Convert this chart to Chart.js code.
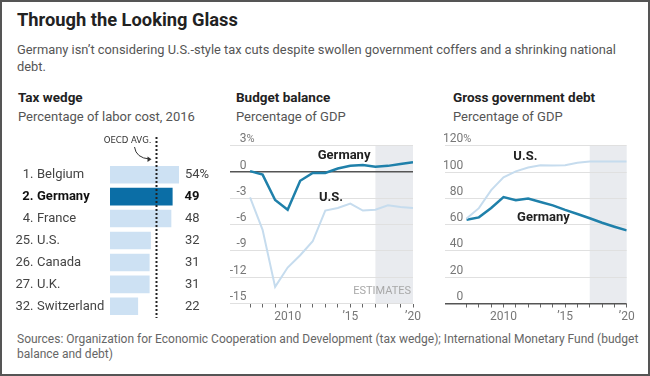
<!DOCTYPE html>
<html>
<head>
<meta charset="utf-8">
<script src="https://cdn.jsdelivr.net/npm/chart.js@4.4.1/dist/chart.umd.min.js"></script>
<style>
body { margin: 0; background: #fff; font-family: Roboto, "Open Sans", sans-serif; }
#frame { position: relative; width: 650px; height: 376px; outline: 2px solid #555; outline-offset: -2px; overflow: hidden; }
.t { position: absolute; white-space: nowrap; }
canvas { position: absolute; }
</style>
</head>
<body>
<div id="frame">
  <div class="t" style="left:17px;top:8px;font-size:18.3px;line-height:24px;font-weight:700;color:#222">Through the Looking Glass</div>
  <div class="t" style="left:17px;top:41px;font-size:12.85px;line-height:17px;color:#555">Germany isn’t considering U.S.-style tax cuts despite swollen government coffers and a shrinking national<br>debt.</div>

  <div class="t" style="left:18px;top:89px;font-size:13.5px;line-height:17px;font-weight:700;color:#222">Tax wedge</div>
  <div class="t" style="left:18px;top:108px;font-size:13px;line-height:17px;color:#555">Percentage of labor cost, 2016</div>
  <div class="t" style="left:236px;top:89px;font-size:13.5px;line-height:17px;font-weight:700;color:#222">Budget balance</div>
  <div class="t" style="left:236px;top:108px;font-size:13px;line-height:17px;color:#555">Percentage of GDP</div>
  <div class="t" style="left:453px;top:89px;font-size:13.5px;line-height:17px;font-weight:700;color:#222">Gross government debt</div>
  <div class="t" style="left:453px;top:108px;font-size:13px;line-height:17px;color:#555">Percentage of GDP</div>

  <canvas id="taxChart" width="220" height="195" style="left:0;top:130px"></canvas>
  <canvas id="budgetChart" width="205" height="200" style="left:220px;top:125px"></canvas>
  <canvas id="debtChart" width="205" height="200" style="left:435px;top:125px"></canvas>

  <div class="t" style="left:17px;top:332px;font-size:12px;line-height:15px;color:#666">Sources: Organization for Economic Cooperation and Development (tax wedge); International Monetary Fund (budget<br>balance and debt)</div>
</div>

<script>
// tax wedge, 2016
const taxRanks = ["1", "2", "4", "25", "26", "27", "32"];
const taxCountries = ["Belgium", "Germany", "France", "U.S.", "Canada", "U.K.", "Switzerland"];
const taxValues = [54, 49, 48, 32, 31, 31, 22];
const oecdAvg = 36;

// budget balance and debt, % of GDP
const years = [2007, 2008, 2009, 2010, 2011, 2012, 2013, 2014, 2015, 2016, 2017, 2018, 2019, 2020];
const germanyBalance = [0.1, -0.3, -3.2, -4.3, -1.0, -0.1, -0.1, 0.4, 0.7, 0.8, 0.6, 0.7, 0.9, 1.1];
const usBalance = [-2.9, -6.6, -13.1, -10.9, -9.5, -7.9, -4.4, -4.1, -3.6, -4.4, -4.3, -3.8, -4.0, -4.1];
const germanyDebt = [63.7, 65.5, 72.6, 80.9, 78.6, 79.8, 77.2, 74.6, 71.2, 68.1, 64.8, 61.4, 58.4, 55.6];
const usDebt = [64.6, 72.5, 86.2, 95.9, 100.5, 103.4, 105.2, 105.0, 105.1, 107.0, 108.0, 108.0, 108.0, 107.9];
const estimatesFrom = 2017;

const germanyColor = '#1f80aa';
const usColor = '#c6dcee';
const fontFamily = 'Roboto, "Open Sans", sans-serif';

// ---------- tax wedge bars ----------
const taxLabels = {
    id: 'taxLabels',
    afterDatasetsDraw(chart) {
        const ctx = chart.ctx;
        const x = chart.scales.x, y = chart.scales.y;
        ctx.save();
        ctx.textBaseline = 'middle';
        taxCountries.forEach((name, i) => {
            const py = y.getPixelForValue(i);
            const bold = name === 'Germany';
            ctx.font = (bold ? 'bold ' : '') + '13px ' + fontFamily;
            ctx.fillStyle = bold ? '#111' : '#444';
            ctx.textAlign = 'right';
            ctx.fillText(taxRanks[i] + '.', 33.5, py);
            ctx.textAlign = 'left';
            ctx.fillText(name, 37, py);
            ctx.textAlign = 'right';
            ctx.fillText(String(taxValues[i]), 199.5, py);
            if (i === 0) {
                ctx.textAlign = 'left';
                ctx.fillText('%', 199.5, py);
            }
        });
        // OECD average dotted line
        const ox = Math.round(x.getPixelForValue(oecdAvg)) + 0.5;
        ctx.strokeStyle = '#222';
        ctx.lineWidth = 2;
        ctx.setLineDash([2, 2]);
        ctx.beginPath();
        ctx.moveTo(ox, 7);
        ctx.lineTo(ox, 188);
        ctx.stroke();
        ctx.setLineDash([]);
        ctx.font = '9.5px "Liberation Sans Narrow", "DejaVu Sans Condensed", ' + fontFamily;
        ctx.fillStyle = '#333';
        ctx.textAlign = 'right';
        ctx.fillText('OECD AVG.', ox - 5, 11);
        // little arrow
        ctx.lineWidth = 1;
        ctx.strokeStyle = '#333';
        ctx.beginPath();
        ctx.moveTo(134.5, 17);
        ctx.quadraticCurveTo(136, 28, ox - 7, 29);
        ctx.stroke();
        ctx.beginPath();
        ctx.moveTo(ox - 5, 29.3);
        ctx.lineTo(ox - 9, 26.5);
        ctx.lineTo(ox - 9, 32);
        ctx.closePath();
        ctx.fillStyle = '#333';
        ctx.fill();
        ctx.restore();
    }
};

new Chart(document.getElementById('taxChart'), {
    type: 'bar',
    data: {
        labels: taxCountries,
        datasets: [{
            data: taxValues,
            backgroundColor: taxCountries.map(c => c === 'Germany' ? '#0b6ea6' : '#cde1f3'),
            barPercentage: 0.8,
            categoryPercentage: 1
        }]
    },
    options: {
        indexAxis: 'y',
        responsive: false,
        animation: false,
        layout: { padding: { left: 110, right: 41, top: 33.7, bottom: 7.7 } },
        plugins: { legend: { display: false }, tooltip: { enabled: false } },
        scales: {
            x: { display: false, min: 0, max: 54 },
            y: { display: false }
        }
    },
    plugins: [taxLabels]
});

// ---------- line panels ----------
function makeLineChart(id, opts) {
    const seriesLabels = {
        id: 'seriesLabels',
        beforeDraw(chart) {
            const { ctx, chartArea } = chart;
            const x = chart.scales.x;
            const sx = x.getPixelForValue(estimatesFrom);
            ctx.save();
            ctx.fillStyle = '#e9ebef';
            ctx.fillRect(sx, chartArea.top, chartArea.right - sx, chartArea.bottom - chartArea.top);
            ctx.restore();
        },
        afterDraw(chart) {
            const { ctx, chartArea } = chart;
            const x = chart.scales.x, y = chart.scales.y;
            ctx.save();
            // y tick labels sitting above the gridlines
            ctx.font = '12px ' + fontFamily;
            ctx.fillStyle = '#777';
            ctx.textBaseline = 'middle';
            y.ticks.forEach(t => {
                const py = y.getPixelForValue(t.value);
                ctx.textAlign = 'right';
                ctx.fillText(String(t.value), chartArea.left + opts.labelRight, py - 6.5);
                if (t.value === opts.max) {
                    ctx.textAlign = 'left';
                    ctx.font = '11px ' + fontFamily;
                    ctx.fillText('%', chartArea.left + opts.labelRight, py - 6.5);
                    ctx.font = '12px ' + fontFamily;
                }
            });
            if (opts.estimatesLabel) {
                ctx.font = '11px ' + fontFamily;
                ctx.fillStyle = '#a8a8a8';
                ctx.textAlign = 'right';
                ctx.fillText('ESTIMATES', chartArea.right - 2, chartArea.bottom - 12);
            }
            ctx.font = 'bold 13px ' + fontFamily;
            ctx.fillStyle = '#222';
            ctx.textAlign = 'left';
            opts.notes.forEach(n => {
                ctx.fillText(n.text, x.getPixelForValue(n.x), y.getPixelForValue(n.y));
            });
            ctx.restore();
        }
    };

    return new Chart(document.getElementById(id), {
        type: 'line',
        data: {
            datasets: [
                {
                    label: 'U.S.',
                    data: years.map((yr, i) => ({ x: yr, y: opts.us[i] })),
                    borderColor: usColor,
                    borderWidth: 2,
                    pointRadius: 0,
                    tension: 0
                },
                {
                    label: 'Germany',
                    data: years.map((yr, i) => ({ x: yr, y: opts.germany[i] })),
                    borderColor: germanyColor,
                    borderWidth: 2.5,
                    pointRadius: 0,
                    tension: 0
                }
            ]
        },
        options: {
            responsive: false,
            animation: false,
            layout: { padding: { left: 10, right: opts.padRight, top: 20.7, bottom: 0 } },
            plugins: { legend: { display: false }, tooltip: { enabled: false } },
            scales: {
                x: {
                    type: 'linear',
                    min: opts.xMin,
                    max: 2020,
                    afterBuildTicks: s => { s.ticks = years.map(v => ({ value: v })); },
                    afterFit: s => { s.height = 21.5; },
                    border: { display: opts.axisLine, color: '#555' },
                    grid: { drawOnChartArea: false, drawTicks: true, tickLength: 4, color: '#666' },
                    ticks: {
                        autoSkip: false,
                        maxRotation: 0,
                        padding: 2,
                        color: '#777',
                        font: { size: 12, family: fontFamily },
                        callback: v => v === 2010 ? '2010' : (v === 2015 ? '’15' : (v === 2020 ? '’20' : ''))
                    }
                },
                y: {
                    min: opts.min,
                    max: opts.max,
                    afterFit: s => { s.width = 0; },
                    border: { display: false },
                    ticks: { display: false, stepSize: opts.step },
                    grid: {
                        drawTicks: false,
                        color: c => c.tick && c.tick.value === opts.darkLine ? '#555' : '#e0e0e0',
                        lineWidth: c => c.tick && c.tick.value === opts.darkLine ? 1.5 : 1
                    }
                }
            }
        },
        plugins: [seriesLabels]
    });
}

makeLineChart('budgetChart', {
    germany: germanyBalance, us: usBalance,
    min: -15, max: 3, step: 3, darkLine: 0,
    xMin: 2005.4, padRight: 12, labelRight: 16.5,
    axisLine: false, estimatesLabel: true,
    notes: [{ text: 'Germany', x: 2012.4, y: 1.9 }, { text: 'U.S.', x: 2012.5, y: -2.9 }]
});

makeLineChart('debtChart', {
    germany: germanyDebt, us: usDebt,
    min: 0, max: 120, step: 20, darkLine: 0,
    xMin: 2005.25, padRight: 13.3, labelRight: 18.3,
    axisLine: false, estimatesLabel: false,
    notes: [{ text: 'U.S.', x: 2010.8, y: 111.4 }, { text: 'Germany', x: 2011.1, y: 65.5 }]
});
</script>
</body>
</html>
